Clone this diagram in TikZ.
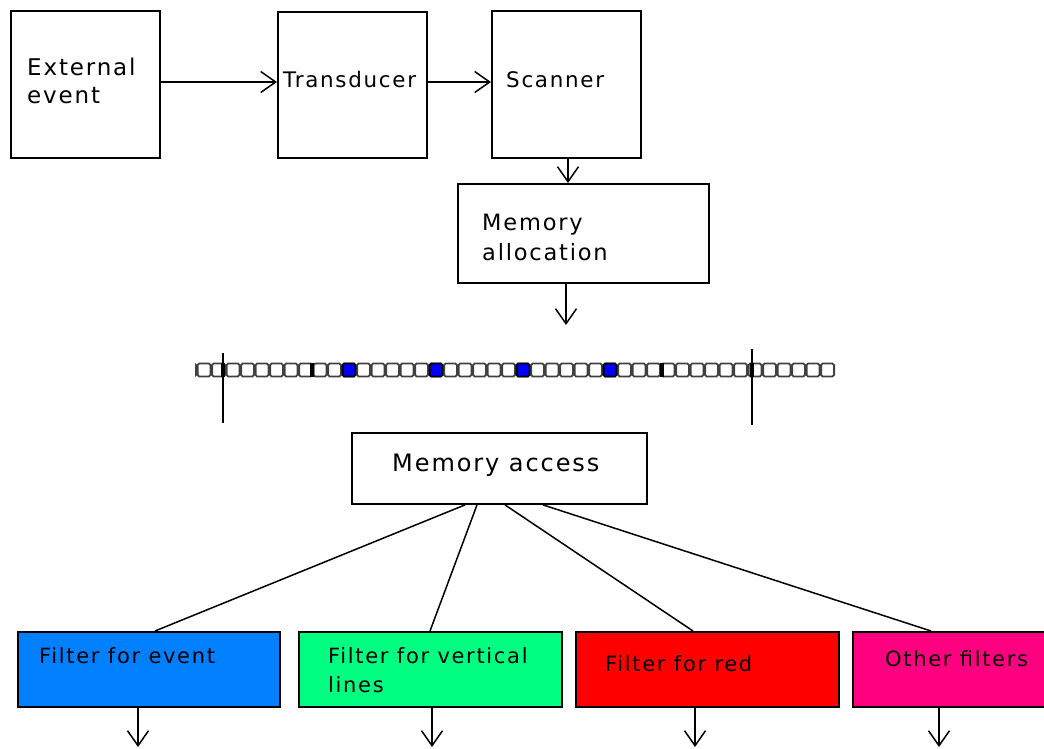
\documentclass[tikz,border=0pt]{standalone}
\usepackage{fontspec}
\setmainfont{DejaVu Sans}[LetterSpace=8]
\usetikzlibrary{arrows.meta}
\definecolor{fblue}{RGB}{0,128,255}
\definecolor{fgreen}{RGB}{0,255,128}
\definecolor{fred}{RGB}{255,0,0}
\definecolor{fpink}{RGB}{255,0,128}
\definecolor{cellblue}{RGB}{0,0,255}
\begin{document}
\begin{tikzpicture}[x=1pt,y=-1pt,
  box/.style={draw=black, line width=1.9pt, rectangle, inner sep=0pt, anchor=north west},
  txt/.style={inner sep=0pt, anchor=base west, align=left, font=\fontsize{22}{29}\selectfont},
  ftxt/.style={txt, font=\fontsize{21}{29}\selectfont},
  conn/.style={line width=1.5pt},
  arr/.style={conn, -{Straight Barb[length=15pt,width=21pt,line width=1.5pt]}},
  cell/.style={draw=black!75, line width=1.8pt, rounded corners=1.5pt}
]
\useasboundingbox (0,0) rectangle (1044,749);
\clip (0,0) rectangle (1044,749);

% top row
\node[box, minimum width=149pt, minimum height=147pt] (ext) at (10,10) {};
\node[box, minimum width=149pt, minimum height=146pt] (trans) at (277,11) {};
\node[box, minimum width=149pt, minimum height=147pt] (scan) at (491,10) {};
\node[txt, font=\fontsize{23}{28}\selectfont] (extT) at (27,104) {External\\event};
\node[txt, font=\fontsize{21.4}{28}\selectfont] (transT) at (283,88) {Transducer};
\node[txt, font=\fontsize{21.4}{28}\selectfont] (scanT) at (506,88) {Scanner};

\draw[arr] (ext.east |- 0,82) -- (trans.west |- 0,82);
\draw[arr] (trans.east |- 0,82) -- (scan.west |- 0,82);

% memory allocation
\node[box, minimum width=251pt, minimum height=99pt] (alloc) at (457,183) {};
\node[txt, font=\fontsize{22.5}{30}\selectfont] (allocT) at (482,260) {Memory\\allocation};
\draw[arr] (scan.south -| 568,0) -- (alloc.north -| 568,0);
\coordinate (strip) at (566,325);
\draw[arr] (alloc.south -| 566,0) -- (strip);

% memory strip
\begin{scope}
\clip (195,355) rectangle (835,385);
\foreach \k in {-11,...,34}{
  \draw[cell] ({349+14.5*\k-6.4},363.5) rectangle ({349+14.5*\k+6.4},376.5);
}
\foreach \k in {0,6,12,18}{
  \filldraw[cell, fill=cellblue, draw=black] ({349+14.5*\k-6.4},363.5) rectangle ({349+14.5*\k+6.4},376.5);
}
\end{scope}
\foreach \xx in {223,312,662,752}{
  \fill[black] (\xx-1.8,363) rectangle (\xx+1.8,377);
}
\draw[line width=1.7pt] (223,353) -- (223,423);
\draw[line width=1.7pt] (752,349) -- (752,425);

% memory access
\node[box, minimum width=295pt, minimum height=71pt] (access) at (351,432) {};
\node[txt, font=\fontsize{24}{29}\selectfont] (accessT) at (392,471) {Memory access};

% filters
\node[box, fill=fblue, minimum width=262pt, minimum height=75pt] (fevent) at (17,631) {};
\node[box, fill=fgreen, minimum width=263pt, minimum height=75pt] (fvert) at (298,631) {};
\node[box, fill=fred, minimum width=263pt, minimum height=75pt] (fred) at (575,631) {};
\node[box, fill=fpink, minimum width=263pt, minimum height=75pt] (fother) at (852,631) {};
\node[ftxt] (feventT) at (39,663) {Filter for event};
\node[ftxt] (fvertT) at (328,692) {Filter for vertical\\lines};
\node[ftxt] (fredT) at (605,671) {Filter for red};
\node[ftxt] (fotherT) at (885,666) {Other filters};

\draw[conn] (access.south -| 465,0) -- (fevent.north -| 155,0);
\draw[conn] (access.south -| 477,0) -- (fvert.north -| 430,0);
\draw[conn] (access.south -| 505,0) -- (fred.north -| 693,0);
\draw[conn] (access.south -| 543,0) -- (fother.north -| 931,0);

\coordinate (o1) at (138,747);
\coordinate (o2) at (432,747);
\coordinate (o3) at (695,747);
\coordinate (o4) at (939,747);
\draw[arr] (fevent.south -| o1) -- (o1);
\draw[arr] (fvert.south -| o2) -- (o2);
\draw[arr] (fred.south -| o3) -- (o3);
\draw[arr] (fother.south -| o4) -- (o4);
\end{tikzpicture}
\end{document}
